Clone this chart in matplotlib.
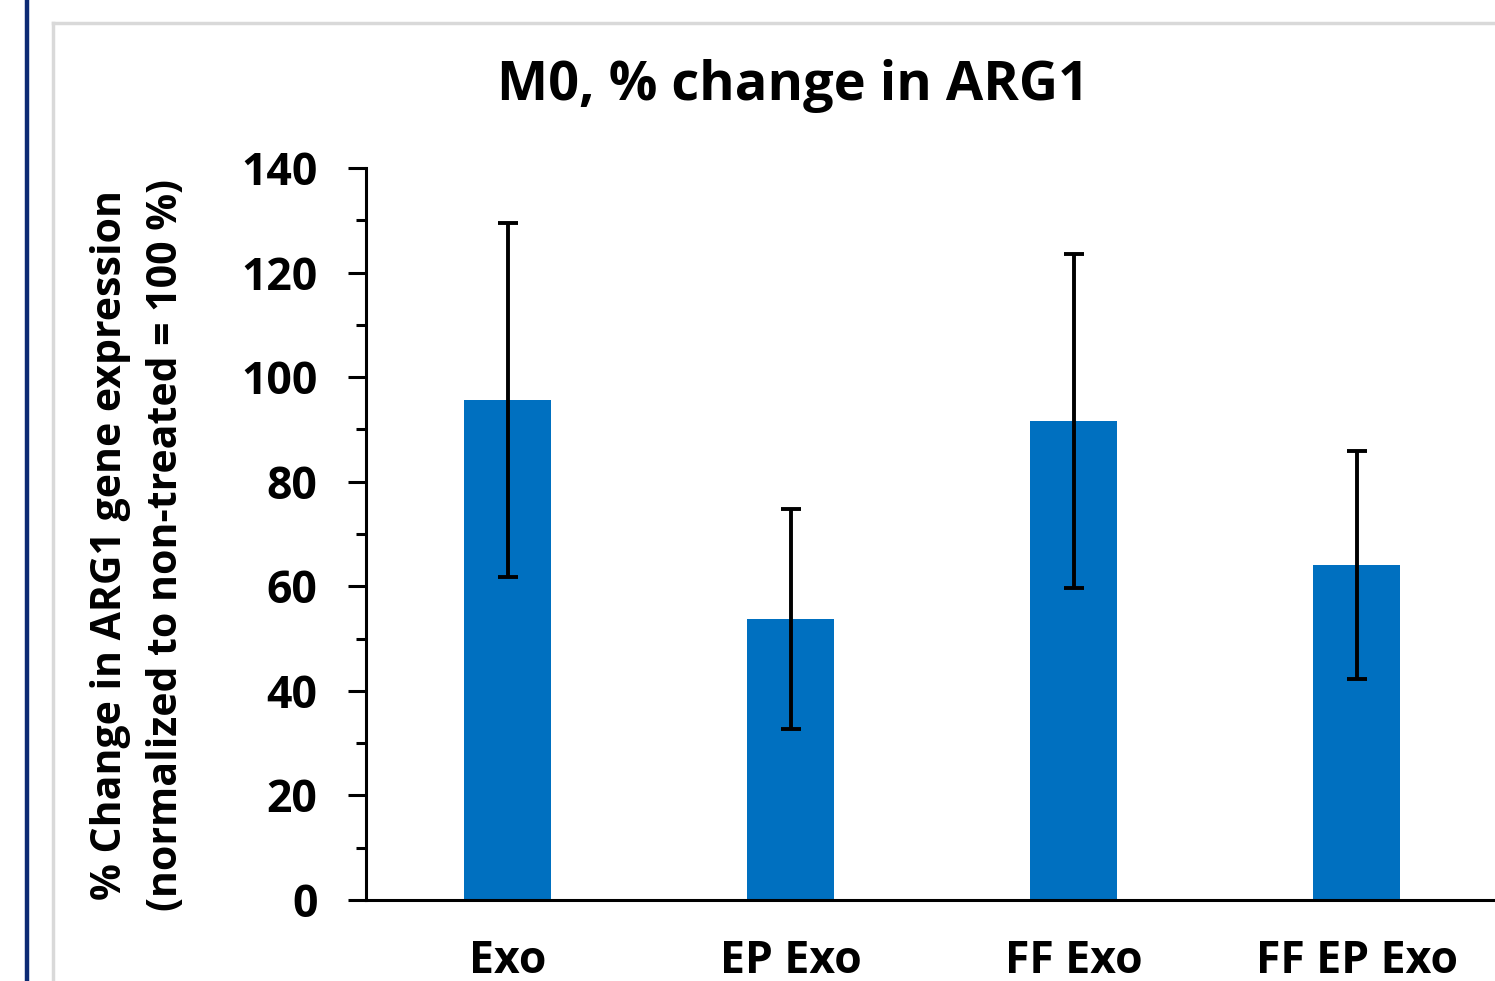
import matplotlib
matplotlib.use("Agg")
import matplotlib.pyplot as plt
from matplotlib.lines import Line2D
from matplotlib.ticker import MultipleLocator

groups = ["Exo", "EP Exo", "FF Exo", "FF EP Exo"]
pct_change = [95.6, 53.7, 91.6, 64.1]
err = [33.8, 21.0, 32.0, 21.8]

plt.rcParams['font.family'] = ['Open Sans', 'DejaVu Sans']
plt.rcParams['font.weight'] = 'bold'

W, H = 1495, 981
fig = plt.figure(figsize=(W / 100, H / 100), dpi=100)

# frame bits from the surrounding slide
fig.add_artist(Line2D([27 / W, 27 / W], [0, 1], color='#0c2a73', lw=3.2))
fig.add_artist(Line2D([53 / W, 53 / W], [0, 1 - 23 / H], color='#d9d9d9', lw=2.5))
fig.add_artist(Line2D([53 / W, 1], [1 - 23 / H, 1 - 23 / H], color='#d9d9d9', lw=2.5))

ax = fig.add_axes([366 / W, (H - 900) / H, (1498 - 366) / W, (900 - 168) / H])
x = range(len(groups))
ax.bar(x, pct_change, width=0.31, color='#0070c0', zorder=2)
ax.errorbar(x, pct_change, yerr=err, fmt='none', ecolor='black', elinewidth=2.8,
            capsize=7, capthick=2.8, zorder=3)

ax.set_ylim(0, 140)
ax.set_xlim(-0.5, 3.5)
ax.yaxis.set_major_locator(MultipleLocator(20))
ax.yaxis.set_minor_locator(MultipleLocator(10))
ax.set_xticks(list(x))
ax.set_xticklabels(groups, fontsize=32, fontweight='bold')
ax.tick_params(axis='x', length=0, pad=28)
ax.tick_params(axis='y', which='major', length=13, width=2.2, labelsize=32, pad=22)
ax.tick_params(axis='y', which='minor', length=7, width=2.2)
for t in ax.get_yticklabels():
    t.set_fontweight('bold')

for s in ['top', 'right']:
    ax.spines[s].set_visible(False)
ax.spines['left'].set_linewidth(2.2)
ax.spines['bottom'].set_linewidth(2.2)

ax.set_ylabel("% Change in ARG1 gene expression\n(normalized to non-treated = 100 %)",
              fontsize=29.5, fontweight='bold', linespacing=1.5)
ax.yaxis.set_label_coords(-0.158, 0.485)

fig.text(793 / W, 1 - 86 / H, "M0, % change in ARG1", fontsize=39, fontweight='bold',
         ha='center', va='center')

fig.savefig("out.png", dpi=100)
